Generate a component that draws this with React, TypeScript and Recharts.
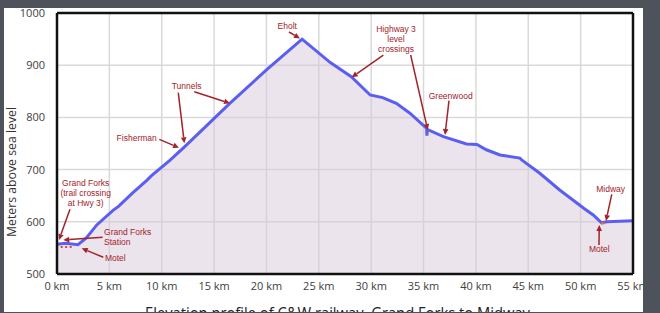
import React from 'react';
import {
  ComposedChart, Area, XAxis, YAxis, CartesianGrid, ReferenceLine, ReferenceDot,
} from 'recharts';

// Elevation profile: distance (km) and elevation (m)
const distanceKm = [0, 0.8, 2.0, 2.8, 3.8, 5.35, 5.9, 7.2, 8.6, 9.0, 10.8, 12.2, 16.5, 20.0, 23.4, 26.1, 28.1, 29.9, 31.1, 32.4, 33.7, 35.3, 35.32, 35.36, 36.9, 39.1, 40.1, 41.0, 42.3, 44.2, 44.4, 46.1, 48.0, 50.3, 51.2, 52.0, 52.5, 55.0];
const elevationM = [557, 559, 556, 569, 594, 622, 630, 655, 680, 688, 718, 744, 827, 891, 950, 905, 878, 843, 838, 827, 808, 779, 765, 777, 763, 749, 748, 738, 728, 722, 718, 693, 661, 626, 613, 598, 600, 602];

const xTicks = [0, 5, 10, 15, 20, 25, 30, 35, 40, 45, 50, 55];
const yTicks = [500, 600, 700, 800, 900, 1000];

// Annotation labels (km, m = first line centre)
const labelKm = [21.99, 12.38, 7.61, 32.37, 37.59, 52.87, 51.78, 2.74, 4.49, 4.58];
const labelM = [975.7, 860.7, 760.0, 968.8, 841.0, 662.3, 547.3, 674.9, 579.9, 530.0];
const labelText = [
  ['Eholt'],
  ['Tunnels'],
  ['Fisherman'],
  ['Highway 3', 'level', 'crossings'],
  ['Greenwood'],
  ['Midway'],
  ['Motel'],
  ['Grand Forks', '(trail crossing', 'at Hwy 3)'],
  ['Grand Forks', 'Station'],
  ['Motel'],
];
const labelAnchor = ['middle', 'middle', 'middle', 'middle', 'middle', 'middle', 'middle', 'middle', 'start', 'start'];

// Annotation arrows (from -> to)
const arrowFromKm = [22.15, 13.11, 11.58, 9.77, 31.16, 33.77, 37.43, 52.97, 51.75, 1.24, 4.36, 4.42];
const arrowFromM = [963.6, 849.2, 847.3, 758.0, 919.5, 919.5, 832.0, 652.7, 555.6, 624.0, 570.3, 532.0];
const arrowToKm = [23.2, 16.52, 12.16, 11.65, 28.14, 35.4, 37.05, 52.42, 51.78, 0.19, 0.6, 2.36];
const arrowToM = [951.2, 827.0, 750.4, 742.0, 876.8, 775.9, 766.3, 601.5, 593.9, 565.1, 565.1, 549.2];

// Motel markers
const motelLeftKm = [0.35, 1.4];
const motelLeftM = 551.7;
const motelRightKm = [51.95, 52.3];
const motelRightM = 597;

const data = distanceKm.map((km, i) => ({ km, m: elevationM[i] }));

const RED = '#a3232a';
const ANN_FONT = '"Comic Sans MS", "Liberation Sans", Arial, sans-serif';

const ArrowShape = (props: any) => {
  const { x1, y1, x2, y2 } = props;
  const dx = x2 - x1;
  const dy = y2 - y1;
  const len = Math.sqrt(dx * dx + dy * dy) || 1;
  const ux = dx / len;
  const uy = dy / len;
  const hl = 6;
  const hw = 2.8;
  const bx = x2 - ux * hl;
  const by = y2 - uy * hl;
  const pts = `${x2},${y2} ${bx - uy * hw},${by + ux * hw} ${bx + uy * hw},${by - ux * hw}`;
  return (
    <g>
      <line x1={x1} y1={y1} x2={bx} y2={by} stroke={RED} strokeWidth={1.5} />
      <polygon points={pts} fill={RED} />
    </g>
  );
};

const makeLabel = (lines: string[], anchor: string) => (props: any) => {
  const { cx, cy } = props;
  return (
    <text
      x={cx}
      y={cy}
      textAnchor={anchor as any}
      dominantBaseline="central"
      fill={RED}
      fontSize={8.5}
      fontFamily={ANN_FONT}
    >
      {lines.map((l, i) => (
        <tspan key={i} x={cx} dy={i === 0 ? 0 : 10}>{l}</tspan>
      ))}
    </text>
  );
};

export default function App() {
  return (
    <div style={{ position: 'absolute', left: 0, top: 0, width: 660, height: 313, background: '#4e525a', overflow: 'hidden' }}>
      <div style={{ position: 'absolute', left: 4, top: 8, width: 639, height: 304, background: '#ffffff', overflow: 'hidden' }}>
        <div style={{ position: 'absolute', left: -4, top: -8, width: 660, height: 313 }}>
          <ComposedChart
            width={660}
            height={313}
            data={data}
            margin={{ top: 13, right: 27, bottom: 19, left: 7 }}
          >
            <CartesianGrid stroke="#d9d9d9" strokeWidth={1.5} />
            <XAxis
              type="number"
              dataKey="km"
              domain={[0, 55]}
              ticks={xTicks}
              tickFormatter={(v: number) => `${v} km`}
              axisLine={false}
              tickLine={false}
              height={20}
              tick={{ fill: '#404040', fontSize: 11, fontFamily: '"Open Sans", sans-serif' }}
              interval={0}
            />
            <YAxis
              type="number"
              domain={[500, 1000]}
              ticks={yTicks}
              axisLine={false}
              tickLine={false}
              width={50}
              tickMargin={6}
              tick={{ fill: '#404040', fontSize: 11, fontFamily: '"Open Sans", sans-serif' }}
              interval={0}
            />
            <Area
              type="linear"
              dataKey="m"
              stroke="#5b5ff0"
              strokeWidth={3}
              fill="#d8c9db"
              fillOpacity={0.5}
              baseValue={500}
              isAnimationActive={false}
              dot={false}
              activeDot={false}
            />
            <ReferenceLine x={0} stroke="#111" strokeWidth={2.5} ifOverflow="visible" />
            <ReferenceLine x={55} stroke="#111" strokeWidth={2.5} ifOverflow="visible" />
            <ReferenceLine y={500} stroke="#111" strokeWidth={2.5} ifOverflow="visible" />
            <ReferenceLine y={1000} stroke="#111" strokeWidth={2.5} ifOverflow="visible" />
            <ReferenceLine
              segment={[{ x: motelLeftKm[0], y: motelLeftM }, { x: motelLeftKm[1], y: motelLeftM }]}
              stroke="#e8423c"
              strokeWidth={2}
              strokeDasharray="2 2.5"
            />
            <ReferenceLine
              segment={[{ x: motelRightKm[0], y: motelRightM }, { x: motelRightKm[1], y: motelRightM }]}
              stroke="#e8703a"
              strokeWidth={2}
            />
            {arrowFromKm.map((_, i) => (
              <ReferenceLine
                key={`a${i}`}
                segment={[{ x: arrowFromKm[i], y: arrowFromM[i] }, { x: arrowToKm[i], y: arrowToM[i] }]}
                shape={ArrowShape}
                ifOverflow="visible"
              />
            ))}
            {labelKm.map((_, i) => (
              <ReferenceDot
                key={`l${i}`}
                x={labelKm[i]}
                y={labelM[i]}
                r={1}
                shape={makeLabel(labelText[i], labelAnchor[i])}
                ifOverflow="visible"
              />
            ))}
          </ComposedChart>
          <svg width={660} height={313} style={{ position: 'absolute', left: 0, top: 0, pointerEvents: 'none' }}>
            <text
              transform="translate(16,172) rotate(-90)"
              textAnchor="middle"
              fill="#333"
              fontSize={13}
              fontFamily='"Open Sans", sans-serif'
              textLength={130}
              lengthAdjust="spacingAndGlyphs"
            >
              Meters above sea level
            </text>
            <text
              x={145}
              y={319}
              fill="#222"
              fontSize={16}
              fontFamily='"Open Sans", sans-serif'
              textLength={385}
              lengthAdjust="spacingAndGlyphs"
            >
              Elevation profile of C&amp;W railway, Grand Forks to Midway
            </text>
          </svg>
        </div>
      </div>
    </div>
  );
}
